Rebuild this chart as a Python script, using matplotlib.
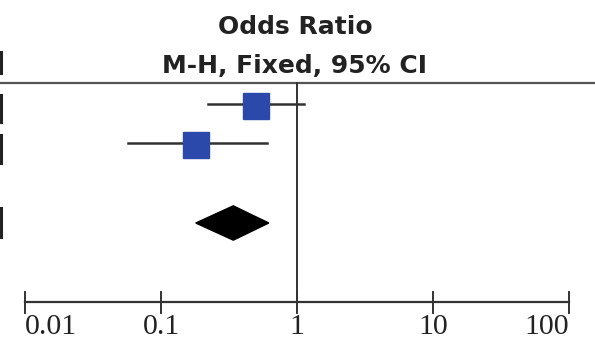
import matplotlib
matplotlib.use("Agg")
import matplotlib.pyplot as plt
from matplotlib.patches import Polygon
from matplotlib.lines import Line2D

# ---- data ----
study_or = [0.50, 0.18]
study_lo = [0.22, 0.057]
study_hi = [1.13, 0.60]
study_rows = [0, 1]
total_or = 0.34
total_lo = 0.18
total_hi = 0.62
total_row = 3
tick_values = [0.01, 0.1, 1, 10, 100]
tick_labels = ["0.01", "0.1", "1", "10", "100"]
title = "Odds Ratio"
subtitle = "M-H, Fixed, 95% CI"

W, H = 595, 341
fig = plt.figure(figsize=(W / 100, H / 100), dpi=100)
ax = fig.add_axes([0, 0, 1, 1])
ax.set_xscale("log")
ax.set_xlim(10 ** -2.184, 10 ** 2.191)
# row units: pixel = 106 + 39*row
ax.set_ylim((H - 106) / 39, -106 / 39)
ax.axis("off")

header_row = -0.59
axis_row = 5.03
label_row = (334 - 106) / 39

# header line across full width
ax.plot([10 ** -2.184, 10 ** 2.191], [header_row, header_row], color="#555555", lw=1.6,
        solid_capstyle="butt")
# line of no effect
ax.plot([1, 1], [header_row, axis_row], color="#333333", lw=1.4)

# bottom axis
ax.plot([tick_values[0], tick_values[-1]], [axis_row, axis_row], color="#333333", lw=1.6)
for i, (v, lab) in enumerate(zip(tick_values, tick_labels)):
    ax.plot([v, v], [axis_row - 0.27, axis_row + 0.27], color="#333333", lw=1.4)
    ha = "left" if i == 0 else ("right" if i == len(tick_values) - 1 else "center")
    ax.text(v, label_row, lab, ha=ha, va="baseline", fontsize=21.5,
            family="Liberation Serif", color="#222222")

# study CIs and squares
for r, o, lo, hi in zip(study_rows, study_or, study_lo, study_hi):
    ax.plot([lo, hi], [r - 0.05, r - 0.05], color="#333333", lw=1.8, zorder=2)
    ax.plot([o], [r], marker="s", markersize=18.5, color="#2B48AB",
            markeredgecolor="#2B48AB", zorder=3)

# pooled diamond
dh = 0.44
diamond = Polygon([[total_lo, total_row], [total_or, total_row - dh],
                   [total_hi, total_row], [total_or, total_row + dh]],
                  closed=True, facecolor="black", edgecolor="black", zorder=3)
ax.add_patch(diamond)

# clipped left-column fragments (pixel centre, half-height)
for yc, hh in [(62.5, 10.5), (108.5, 13.5), (149, 14), (222.5, 14.5)]:
    fig.add_artist(Line2D([1.2 / W, 1.2 / W],
                          [1 - (yc - hh) / H, 1 - (yc + hh) / H],
                          color="#222222", lw=2.2))

# titles
fig.text(295 / W, 1 - 34 / H, title, ha="center", va="baseline", fontsize=18,
         fontweight="bold", family="DejaVu Sans", color="#222222")
fig.text(295 / W, 1 - 73 / H, subtitle, ha="center", va="baseline", fontsize=18,
         fontweight="bold", family="DejaVu Sans", color="#222222")

fig.savefig("out.png", dpi=100)
